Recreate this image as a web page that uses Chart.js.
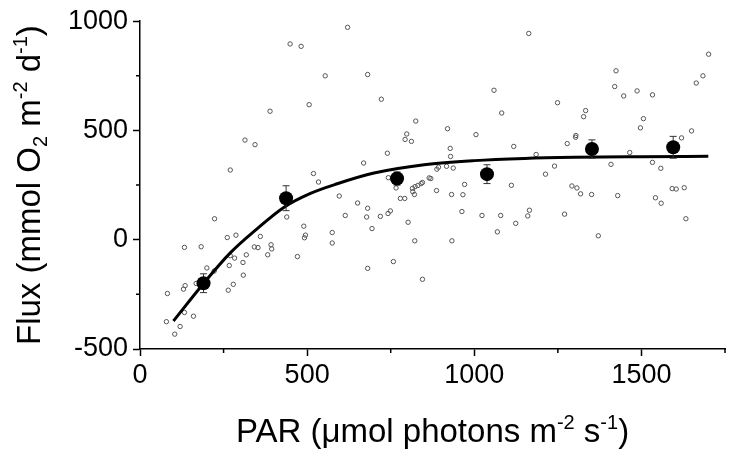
<!DOCTYPE html>
<html>
<head>
<meta charset="utf-8">
<script src="https://cdn.jsdelivr.net/npm/chart.js@4/dist/chart.umd.min.js"></script>
<style>
  html, body { margin: 0; padding: 0; background: #fff; }
  #wrap { width: 732px; height: 454px; }
</style>
</head>
<body>
<div id="wrap"><canvas id="fluxChart" width="732" height="454"></canvas></div>
<script>
// raw measurements (PAR, flux)
const parX = [449, 482, 554, 506, 389, 314, 344, 270, 519, 534,
  621, 1163, 681, 722, 1059, 1082, 825, 920, 798, 793, 812, 1005, 1118, 740, 928, 929, 669,
  888, 893, 917, 937, 743, 865, 870, 845, 971, 1111,
  596, 651, 681, 614, 678, 719, 742, 749, 694, 766, 779, 792, 815, 823, 831, 841, 816, 821,
  887, 932, 966, 963, 802, 822, 933, 758, 681, 845, 1023, 1079, 1069, 1124, 1165, 1160, 575, 575,
  1701, 1684, 1664, 1424, 1420, 1447, 1487, 1533, 1249, 1333, 1327, 1506, 1497, 1304, 1303, 1278,
  1650, 1620, 1185, 1465, 1240, 1213, 1409, 1533, 1558, 1292, 1307,
  1318, 1351, 1429, 1542, 1559, 1592, 1604, 1628, 1633, 1270, 1371,
  223, 439, 490, 495, 492, 261, 287, 360, 133, 183, 342, 353, 392, 394, 382, 471, 270, 283, 318,
  308, 267, 200, 222, 309, 168, 135, 130, 279, 264, 82, 133, 160, 79, 120, 104];
const fluxY = [896, 885, 750, 618, 588, 456, 435, 319, 303, 264,
  972, 944, 756, 643, 684, 580, 543, 508, 484, 459, 450, 481, 427, 396, 418, 381, 351,
  323, 332, 336, 328, 284, 283, 280, 262, 253, 249,
  200, 168, 144, 111, 104, 107, 120, 132, 51, 237, 189, 189, 235, 243, 248, 257, 220, 207,
  225, 207, 206, 129, 80, -5, -5, -100, -131, -181, 111, 111, 36, 75, 135, 109, 33, -15,
  849, 750, 717, 773, 701, 658, 681, 663, 627, 591, 563, 554, 512, 477, 469, 440,
  498, 466, 390, 399, 337, 300, 345, 354, 327, 246, 237,
  210, 207, 202, 192, 167, 234, 232, 238, 96, 117, 18,
  96, 104, 62, 21, 9, 10, 21, 15, -35, -32, -33, -36, -23, -42, -69, -77, -73, -84, -69,
  -104, -118, -129, -143, -162, -200, -210, -226, -204, -231, -246, -333, -350, -375, -397, -432];

// binned means with error
const meanPar = [190, 437, 769, 1038, 1352, 1595];
const meanFlux = [-199, 190, 280, 300, 415, 423];
const meanErr = [43, 57, 30, 43, 42, 50];

// fitted curve
const fitPar = [100, 190, 270, 350, 430, 510, 590, 700, 850, 1000, 1150, 1300, 1500, 1700];
const fitFlux = [-372, -200, -60, 50, 148, 212, 256, 305, 343, 362, 372, 377, 380, 382];

const xLabels = [0, 500, 1000, 1500];
const yLabels = [-500, 0, 500, 1000];

const fontFamily = '"Liberation Sans", Arial, sans-serif';

function pairs(xs, ys) {
    return xs.map((x, i) => ({ x: x, y: ys[i] }));
}

// error bars, minor ticks and axis titles
const extras = {
    id: 'extras',
    afterDatasetDraw(chart, args) {
        if (args.index !== 1) return;
        const ctx = chart.ctx, xs = chart.scales.x, ys = chart.scales.y;
        ctx.save();
        ctx.strokeStyle = '#333';
        ctx.lineWidth = 1;
        meanPar.forEach((p, i) => {
            const px = xs.getPixelForValue(p);
            const top = ys.getPixelForValue(meanFlux[i] + meanErr[i]);
            const bot = ys.getPixelForValue(meanFlux[i] - meanErr[i]);
            ctx.beginPath();
            ctx.moveTo(px, top); ctx.lineTo(px, bot);
            ctx.moveTo(px - 3.5, top); ctx.lineTo(px + 3.5, top);
            ctx.moveTo(px - 3.5, bot); ctx.lineTo(px + 3.5, bot);
            ctx.stroke();
        });
        ctx.restore();
    },
    afterDraw(chart) {
        const ctx = chart.ctx, xs = chart.scales.x, ys = chart.scales.y;
        const area = chart.chartArea;
        ctx.save();
        ctx.strokeStyle = '#000';
        ctx.lineWidth = 1.5;
        ctx.beginPath();
        xs.ticks.forEach(t => {
            if (xLabels.includes(t.value)) return;
            const px = xs.getPixelForValue(t.value);
            ctx.moveTo(px, area.bottom); ctx.lineTo(px, area.bottom + 4);
        });
        ys.ticks.forEach(t => {
            if (yLabels.includes(t.value)) return;
            const py = ys.getPixelForValue(t.value);
            ctx.moveTo(area.left - 4, py); ctx.lineTo(area.left, py);
        });
        ctx.stroke();

        ctx.fillStyle = '#000';
        const xTitle = [['PAR (', 0], ['\u03bc', 0], ['mol photons m', 0], ['-2', 1], [' s', 0], ['-1', 1], [')', 0]];
        const yTitle = [['Flux (mmol O', 0], ['2', -1], [' m', 0], ['-2', 1], [' d', 0], ['-1', 1], [')', 0]];
        drawRich(ctx, xTitle, (area.left + area.right) / 2, 442, 33, 0);
        drawRich(ctx, yTitle, 40, (area.top + area.bottom) / 2, 33, -Math.PI / 2);
        ctx.restore();
    }
};

function drawRich(ctx, parts, cx, cy, size, angle) {
    ctx.save();
    ctx.translate(cx, cy);
    ctx.rotate(angle);
    ctx.textBaseline = 'alphabetic';
    ctx.textAlign = 'left';
    const small = Math.round(size * 0.62);
    let total = 0;
    parts.forEach(p => {
        ctx.font = (p[1] ? small : size) + 'px ' + fontFamily;
        total += ctx.measureText(p[0]).width;
    });
    let x = -total / 2;
    parts.forEach(p => {
        ctx.font = (p[1] ? small : size) + 'px ' + fontFamily;
        let dy = 0;
        if (p[1] === 1) dy = -size * 0.4;
        if (p[1] === -1) dy = size * 0.2;
        ctx.fillText(p[0], x, dy);
        x += ctx.measureText(p[0]).width;
    });
    ctx.restore();
}

document.addEventListener('DOMContentLoaded', function() {
    const canvas = document.getElementById('fluxChart');

    new Chart(canvas, {
        type: 'scatter',
        data: {
            datasets: [{
                label: 'Mean',
                data: pairs(meanPar, meanFlux),
                backgroundColor: '#000',
                borderColor: '#000',
                pointRadius: 7,
                borderWidth: 0
            }, {
                label: 'Fit',
                data: pairs(fitPar, fitFlux),
                showLine: true,
                borderColor: '#000',
                borderWidth: 3,
                pointRadius: 0,
                cubicInterpolationMode: 'monotone'
            }, {
                label: 'Flux',
                data: pairs(parX, fluxY),
                backgroundColor: 'rgba(255,255,255,0)',
                borderColor: '#555',
                borderWidth: 1,
                pointRadius: 2.2
            }]
        },
        options: {
            responsive: false,
            animation: false,
            events: [],
            layout: { padding: { left: 0, right: 7, top: 17, bottom: 0 } },
            scales: {
                x: {
                    type: 'linear',
                    min: 0,
                    max: 1750,
                    afterFit: s => { s.height = 105; },
                    border: { display: true, color: '#000', width: 1.5 },
                    grid: {
                        drawOnChartArea: false,
                        tickLength: 7,
                        tickWidth: 1.5,
                        tickColor: c => xLabels.includes(c.tick.value) ? '#000' : 'rgba(0,0,0,0)'
                    },
                    ticks: {
                        stepSize: 250,
                        autoSkip: false,
                        maxRotation: 0,
                        padding: 3,
                        color: '#000',
                        font: { family: fontFamily, size: 27 },
                        callback: v => xLabels.includes(v) ? String(v) : ''
                    }
                },
                y: {
                    type: 'linear',
                    min: -500,
                    max: 1000,
                    afterFit: s => { s.width = 140; },
                    border: { display: true, color: '#000', width: 1.5 },
                    grid: {
                        drawOnChartArea: false,
                        tickLength: 7,
                        tickWidth: 1.5,
                        tickColor: c => yLabels.includes(c.tick.value) ? '#000' : 'rgba(0,0,0,0)'
                    },
                    ticks: {
                        stepSize: 250,
                        autoSkip: false,
                        padding: 5,
                        color: '#000',
                        font: { family: fontFamily, size: 27 },
                        callback: v => yLabels.includes(v) ? String(v) : ''
                    }
                }
            },
            plugins: {
                legend: { display: false },
                tooltip: { enabled: false }
            }
        },
        plugins: [extras]
    });
});
</script>
</body>
</html>
